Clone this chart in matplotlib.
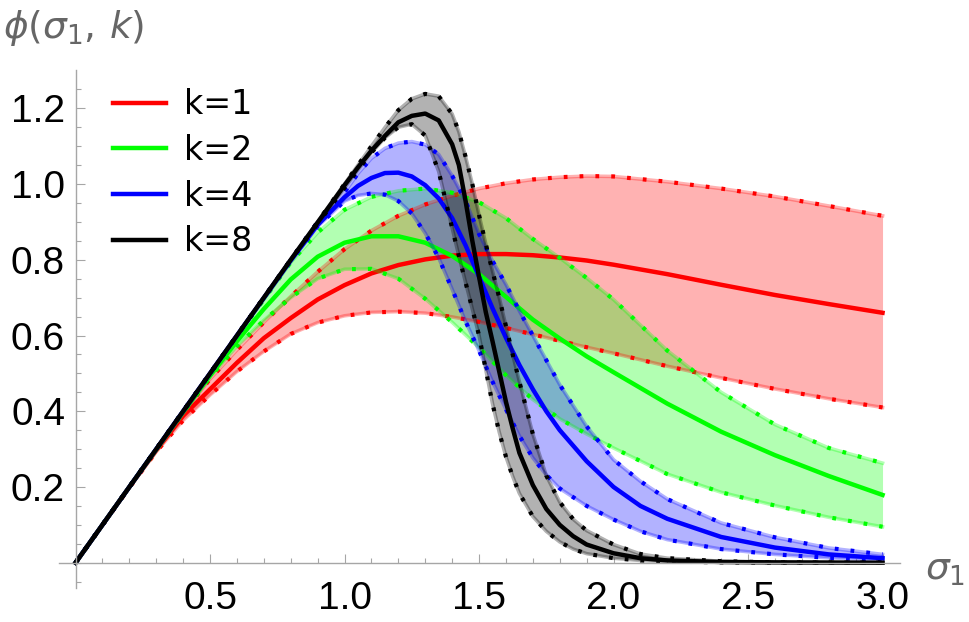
import matplotlib
matplotlib.use('Agg')
import matplotlib.pyplot as plt
from matplotlib.ticker import FixedLocator
from matplotlib.lines import Line2D

# values
sig1 = [0, 0.2, 0.3, 0.4, 0.5, 0.6, 0.7, 0.8, 0.9, 1.0, 1.1, 1.2, 1.3, 1.4, 1.5,
        1.6, 1.7, 1.8, 1.9, 2.0, 2.2, 2.4, 2.6, 2.8, 3.0]
k1_mid = [0, 0.2, 0.297, 0.388, 0.458, 0.528, 0.593, 0.646, 0.695, 0.733, 0.764, 0.786, 0.801,
          0.811, 0.815, 0.815, 0.812, 0.806, 0.798, 0.787, 0.762, 0.734, 0.707, 0.683, 0.660]
k1_hi = [0, 0.2, 0.299, 0.396, 0.485, 0.562, 0.635, 0.703, 0.768, 0.828, 0.877, 0.916, 0.946,
         0.969, 0.988, 1.002, 1.012, 1.018, 1.021, 1.020, 1.006, 0.988, 0.967, 0.942, 0.916]
k1_lo = [0, 0.198, 0.293, 0.376, 0.443, 0.505, 0.558, 0.604, 0.634, 0.652, 0.661, 0.663, 0.659,
         0.649, 0.636, 0.620, 0.603, 0.586, 0.569, 0.553, 0.519, 0.488, 0.459, 0.433, 0.410]

sig2 = [0, 0.2, 0.4, 0.5, 0.6, 0.7, 0.8, 0.9, 1.0, 1.1, 1.2, 1.3, 1.4, 1.5, 1.6, 1.7,
        1.8, 1.9, 2.0, 2.2, 2.4, 2.6, 2.8, 3.0]
k2_mid = [0, 0.2, 0.398, 0.494, 0.585, 0.670, 0.748, 0.808, 0.845, 0.862, 0.862, 0.845,
          0.810, 0.762, 0.702, 0.642, 0.592, 0.545, 0.503, 0.420, 0.346, 0.284, 0.229, 0.179]
k2_hi = [0, 0.2, 0.4, 0.499, 0.597, 0.695, 0.793, 0.872, 0.932, 0.966, 0.982, 0.988,
         0.977, 0.952, 0.910, 0.855, 0.805, 0.752, 0.695, 0.560, 0.450, 0.365, 0.303, 0.263]
k2_lo = [0, 0.2, 0.396, 0.490, 0.572, 0.640, 0.700, 0.750, 0.775, 0.776, 0.750, 0.697,
         0.635, 0.568, 0.495, 0.431, 0.380, 0.340, 0.303, 0.234, 0.186, 0.151, 0.120, 0.095]

sig4 = [0, 0.2, 0.4, 0.6, 0.8, 0.9, 1.0, 1.05, 1.1, 1.15, 1.2, 1.25, 1.3, 1.35, 1.4, 1.45,
        1.5, 1.55, 1.6, 1.65, 1.7, 1.75, 1.8, 1.9, 2.0, 2.1, 2.2, 2.4, 2.6, 2.8, 3.0]
k4_mid = [0, 0.2, 0.4, 0.6, 0.798, 0.892, 0.965, 0.995, 1.016, 1.029, 1.030, 1.020, 0.997,
          0.962, 0.910, 0.838, 0.755, 0.672, 0.594, 0.522, 0.458, 0.400, 0.350, 0.268,
          0.200, 0.150, 0.116, 0.068, 0.040, 0.022, 0.012]
k4_hi = [0, 0.2, 0.4, 0.6, 0.8, 0.9, 0.978, 1.028, 1.068, 1.094, 1.108, 1.112, 1.104,
         1.078, 1.022, 0.955, 0.868, 0.797, 0.735, 0.665, 0.600, 0.535, 0.470, 0.360,
         0.272, 0.215, 0.168, 0.105, 0.067, 0.039, 0.022]
k4_lo = [0, 0.2, 0.4, 0.6, 0.797, 0.888, 0.955, 0.970, 0.975, 0.972, 0.955, 0.922, 0.870,
         0.805, 0.722, 0.637, 0.560, 0.478, 0.405, 0.335, 0.277, 0.232, 0.196, 0.150,
         0.114, 0.083, 0.061, 0.036, 0.022, 0.013, 0.0075]

sig8 = [0, 0.2, 0.4, 0.6, 0.8, 1.0, 1.05, 1.1, 1.15, 1.2, 1.25, 1.3, 1.35, 1.4, 1.425,
        1.45, 1.475, 1.5, 1.525, 1.55, 1.575, 1.6, 1.625, 1.65, 1.7, 1.75, 1.8, 1.85,
        1.9, 2.0, 2.1, 2.2, 2.4, 2.6, 3.0]
k8_mid = [0, 0.2, 0.4, 0.6, 0.8, 0.997, 1.044, 1.088, 1.127, 1.163, 1.180, 1.186, 1.168,
          1.105, 1.050, 0.955, 0.850, 0.755, 0.662, 0.585, 0.505, 0.425, 0.355, 0.290,
          0.205, 0.142, 0.100, 0.070, 0.048, 0.025, 0.012, 0.006, 0.002, 0.001, 0.0]
k8_hi = [0, 0.2, 0.4, 0.6, 0.8, 1.0, 1.05, 1.1, 1.149, 1.195, 1.225, 1.238, 1.232,
         1.185, 1.138, 1.072, 1.000, 0.918, 0.842, 0.770, 0.700, 0.625, 0.550, 0.478,
         0.340, 0.230, 0.160, 0.115, 0.085, 0.048, 0.023, 0.012, 0.004, 0.001, 0.0]
k8_lo = [0, 0.2, 0.4, 0.6, 0.8, 0.99, 1.038, 1.083, 1.122, 1.150, 1.158, 1.128, 1.033,
         0.884, 0.810, 0.740, 0.670, 0.600, 0.510, 0.420, 0.345, 0.280, 0.228, 0.183,
         0.122, 0.083, 0.055, 0.036, 0.024, 0.012, 0.006, 0.003, 0.001, 0.0, 0.0]

labels = ['k=1', 'k=2', 'k=4', 'k=8']
colors = ['#ff0000', '#00ff00', '#0000ff', '#000000']
xticks = [0.5, 1.0, 1.5, 2.0, 2.5, 3.0]
yticks = [0.2, 0.4, 0.6, 0.8, 1.0, 1.2]

groups = [(sig1, k1_mid, k1_lo, k1_hi), (sig2, k2_mid, k2_lo, k2_hi),
          (sig4, k4_mid, k4_lo, k4_hi), (sig8, k8_mid, k8_lo, k8_hi)]

fig = plt.figure(figsize=(9.69, 6.22), dpi=100)
ax = fig.add_axes([0.0613, 0.0545, 0.8678, 0.8323])

for (s, mid, lo, hi), c in zip(groups, colors):
    ax.fill_between(s, lo, hi, color=c, alpha=0.3, lw=0)
    for edge in (lo, hi):
        ax.plot(s, edge, color=c, alpha=0.3, lw=2.6, solid_joinstyle='round')
        ax.plot(s, edge, color=c, lw=3.0, linestyle=(0, (0.9, 2.9)))
    ax.plot(s, mid, color=c, lw=3.2, solid_joinstyle='round')

ax.set_xlim(-0.06, 3.066)
ax.set_ylim(-0.067, 1.30)

grey = '#a6a6a6'
for side in ['top', 'right']:
    ax.spines[side].set_visible(False)
ax.spines['left'].set_position(('data', 0))
ax.spines['bottom'].set_position(('data', 0))
for side in ['left', 'bottom']:
    ax.spines[side].set_color(grey)
    ax.spines[side].set_linewidth(1.0)

ax.set_xticks(xticks)
ax.set_xticklabels(['%.1f' % v for v in xticks])
ax.set_yticks(yticks)
ax.set_yticklabels(['%.1f' % v for v in yticks])
ax.xaxis.set_minor_locator(FixedLocator([i / 10 for i in range(1, 31)]))
ax.yaxis.set_minor_locator(FixedLocator([i / 20 for i in range(-1, 26)]))
ax.tick_params(which='both', direction='in', color=grey, width=0.8)
ax.tick_params(which='major', length=6.7)
ax.tick_params(which='minor', length=3.8)
ax.tick_params(axis='x', pad=13)
ax.tick_params(axis='y', pad=7.5)
for lab in ax.get_xticklabels() + ax.get_yticklabels():
    lab.set_fontfamily('Liberation Sans')
    lab.set_fontsize(28)

handles = [Line2D([], [], color=c, lw=3.2) for c in colors]
fig.legend(handles, labels, loc='center left', bbox_to_anchor=(0.1166, 0.7212),
           bbox_transform=fig.transFigure, frameon=False, fontsize=24,
           handlelength=1.59, handletextpad=0.54, labelspacing=0.38,
           borderpad=0, borderaxespad=0)

fig.text(3 / 969, 1 - 38 / 622, r'$\phi(\sigma_1,\,k)$', ha='left', va='baseline',
         fontsize=27, color='#666666')
fig.text(925 / 969, 1 - 580 / 622, r'$\sigma_1$', ha='left', va='baseline',
         fontsize=27, color='#666666')

fig.savefig('out.png', dpi=100)
